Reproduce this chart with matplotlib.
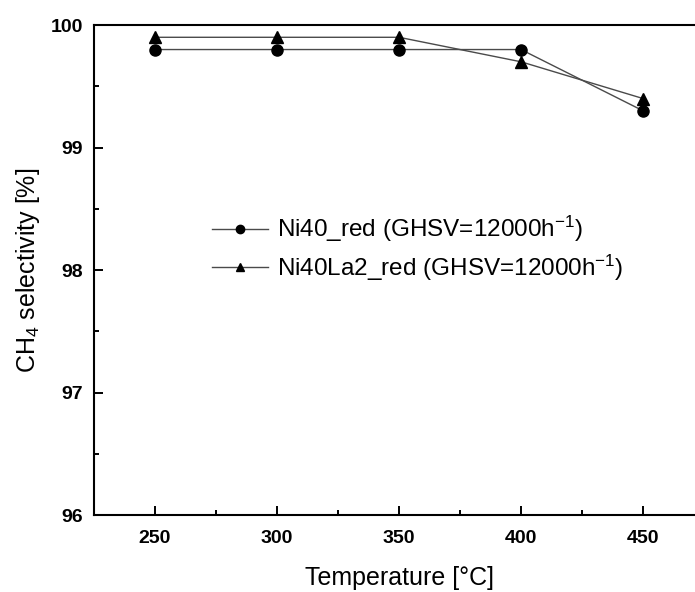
import matplotlib
matplotlib.use("Agg")
import matplotlib.pyplot as plt
from matplotlib.ticker import MultipleLocator

plt.rcParams["font.family"] = ["Liberation Sans", "DejaVu Sans"]
plt.rcParams["mathtext.fontset"] = "custom"
plt.rcParams["mathtext.rm"] = "Liberation Sans"
plt.rcParams["mathtext.it"] = "Liberation Sans:italic"
plt.rcParams["mathtext.bf"] = "Liberation Sans:bold"

temperature = [250, 300, 350, 400, 450]
ni40_red = [99.8, 99.8, 99.8, 99.8, 99.3]
ni40la2_red = [99.9, 99.9, 99.9, 99.7, 99.4]
labels = ["Ni40_red (GHSV=12000h$^{-1}$)", "Ni40La2_red (GHSV=12000h$^{-1}$)"]

fig = plt.figure(figsize=(6.95, 5.92), dpi=100)
# right edge of the frame runs past the figure border
ax = fig.add_axes([0.1353, 0.130, 0.8777, 0.8277])

line_kw = dict(color="#4a4a4a", lw=1.0, markerfacecolor="black", markeredgecolor="black")
ax.plot(temperature, ni40_red, marker="o", ms=8, label=labels[0], **line_kw)
ax.plot(temperature, ni40la2_red, marker="^", ms=8.5, label=labels[1], **line_kw)

ax.set_xlim(225, 475)
ax.set_ylim(96, 100)
ax.xaxis.set_major_locator(MultipleLocator(50))
ax.xaxis.set_minor_locator(MultipleLocator(25))
ax.yaxis.set_major_locator(MultipleLocator(1))
ax.yaxis.set_minor_locator(MultipleLocator(0.5))
ax.tick_params(which="major", direction="in", length=6.5, width=1.4, labelsize=14)
ax.tick_params(which="minor", direction="in", length=3.5, width=1.4)
ax.tick_params(axis="x", which="both", top=False, pad=11)
ax.tick_params(axis="y", which="both", right=False, pad=8)
for lab in ax.get_xticklabels() + ax.get_yticklabels():
    lab.set_fontweight("bold")
for sp in ax.spines.values():
    sp.set_linewidth(1.5)
ax.spines["right"].set_visible(False)

ax.set_xlabel("Temperature [°C]", fontsize=18, va="center")
ax.xaxis.set_label_coords(0.5, -0.1286)
ax.set_ylabel("CH$_4$ selectivity [%]", fontsize=18, va="center")
ax.yaxis.set_label_coords(-0.108, 0.5)

ax.legend(loc="upper left", bbox_to_anchor=(212 / 695, 1 - 214 / 592),
          bbox_transform=fig.transFigure, frameon=False, fontsize=17.5,
          borderpad=0, borderaxespad=0, handlelength=2.3, handletextpad=0.37,
          labelspacing=0.35, markerscale=0.75)

fig.savefig("out.png", dpi=100)
